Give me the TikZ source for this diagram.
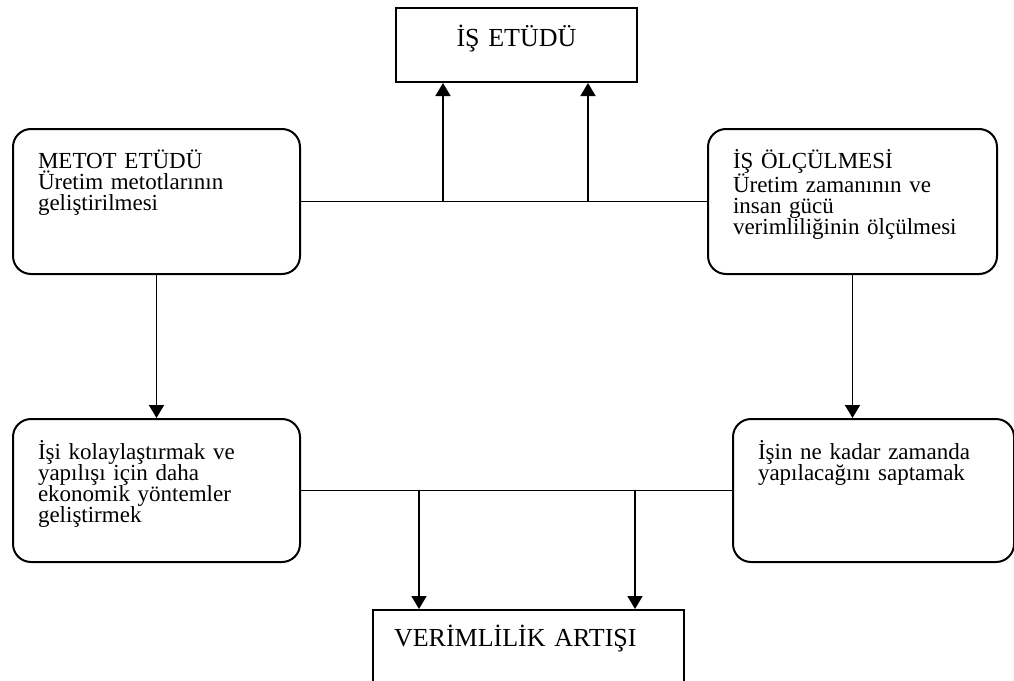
\documentclass[tikz,border=0pt]{standalone}
\usepackage{fontspec}
\setmainfont{Liberation Serif}
\usetikzlibrary{arrows.meta}

\begin{document}
\begin{tikzpicture}[x=1pt,y=-1pt,
  kutu/.style={shape=rectangle,rounded corners=18pt,draw=black,line width=2pt,align=left,anchor=north west,inner xsep=25pt,inner ysep=0pt,font=\fontsize{23}{21}\selectfont},
  baslik/.style={shape=rectangle,draw=black,line width=2pt,anchor=north west,inner ysep=0pt,font=\fontsize{26}{28}\selectfont},
  ok/.style={line width=1.6pt,-{Triangle[width=15pt,length=13pt]}},
  hat/.style={line width=1.6pt}]
\useasboundingbox (0,0) rectangle (1014,680);
\clip (0,0) rectangle (1014,680);
\node[baslik,align=center,inner xsep=10pt,text width=221pt,text height=38pt,text depth=36pt] (etudu) at (395,7) {İŞ ETÜDÜ};
\node[kutu,text width=237pt,text height=39pt,text depth=106pt] (metot) at (12,128) {METOT ETÜDÜ\\Üretim metotlarının\\geliştirilmesi};
\node[kutu,text width=239pt,text height=39pt,text depth=106pt] (olcum) at (707,128) {İŞ ÖLÇÜLMESİ\\Üretim zamanının ve\\insan gücü\\verimliliğinin ölçülmesi};
\node[kutu,text width=237pt,text height=40pt,text depth=103pt] (kolay) at (12,418) {İşi kolaylaştırmak ve\\yapılışı için daha\\ekonomik yöntemler\\geliştirmek};
\node[kutu,text width=231pt,text height=40pt,text depth=103pt] (sapta) at (732,418) {İşin ne kadar zamanda\\yapılacağını saptamak};
\node[baslik,align=left,inner xsep=21pt,text width=269pt,text height=36pt,text depth=90pt] (verim) at (372,609) {VERİMLİLİK ARTIŞI};

% ust hat
\draw[hat] (metot.east) -- (olcum.west);
\coordinate (y1) at (443,200.5);
\coordinate (y2) at (588,200.5);
\draw[ok] (y1) -- (y1 |- etudu.south);
\draw[ok] (y2) -- (y2 |- etudu.south);

\draw[ok] (metot.south) -- (kolay.north);
\draw[ok] (olcum.south) -- (olcum.south |- sapta.north);

% alt hat
\draw[hat] (kolay.east) -- (sapta.west);
\coordinate (a1) at (419,489.5);
\coordinate (a2) at (635,489.5);
\draw[ok] (a1) -- (a1 |- verim.north);
\draw[ok] (a2) -- (a2 |- verim.north);

\end{tikzpicture}
\end{document}
